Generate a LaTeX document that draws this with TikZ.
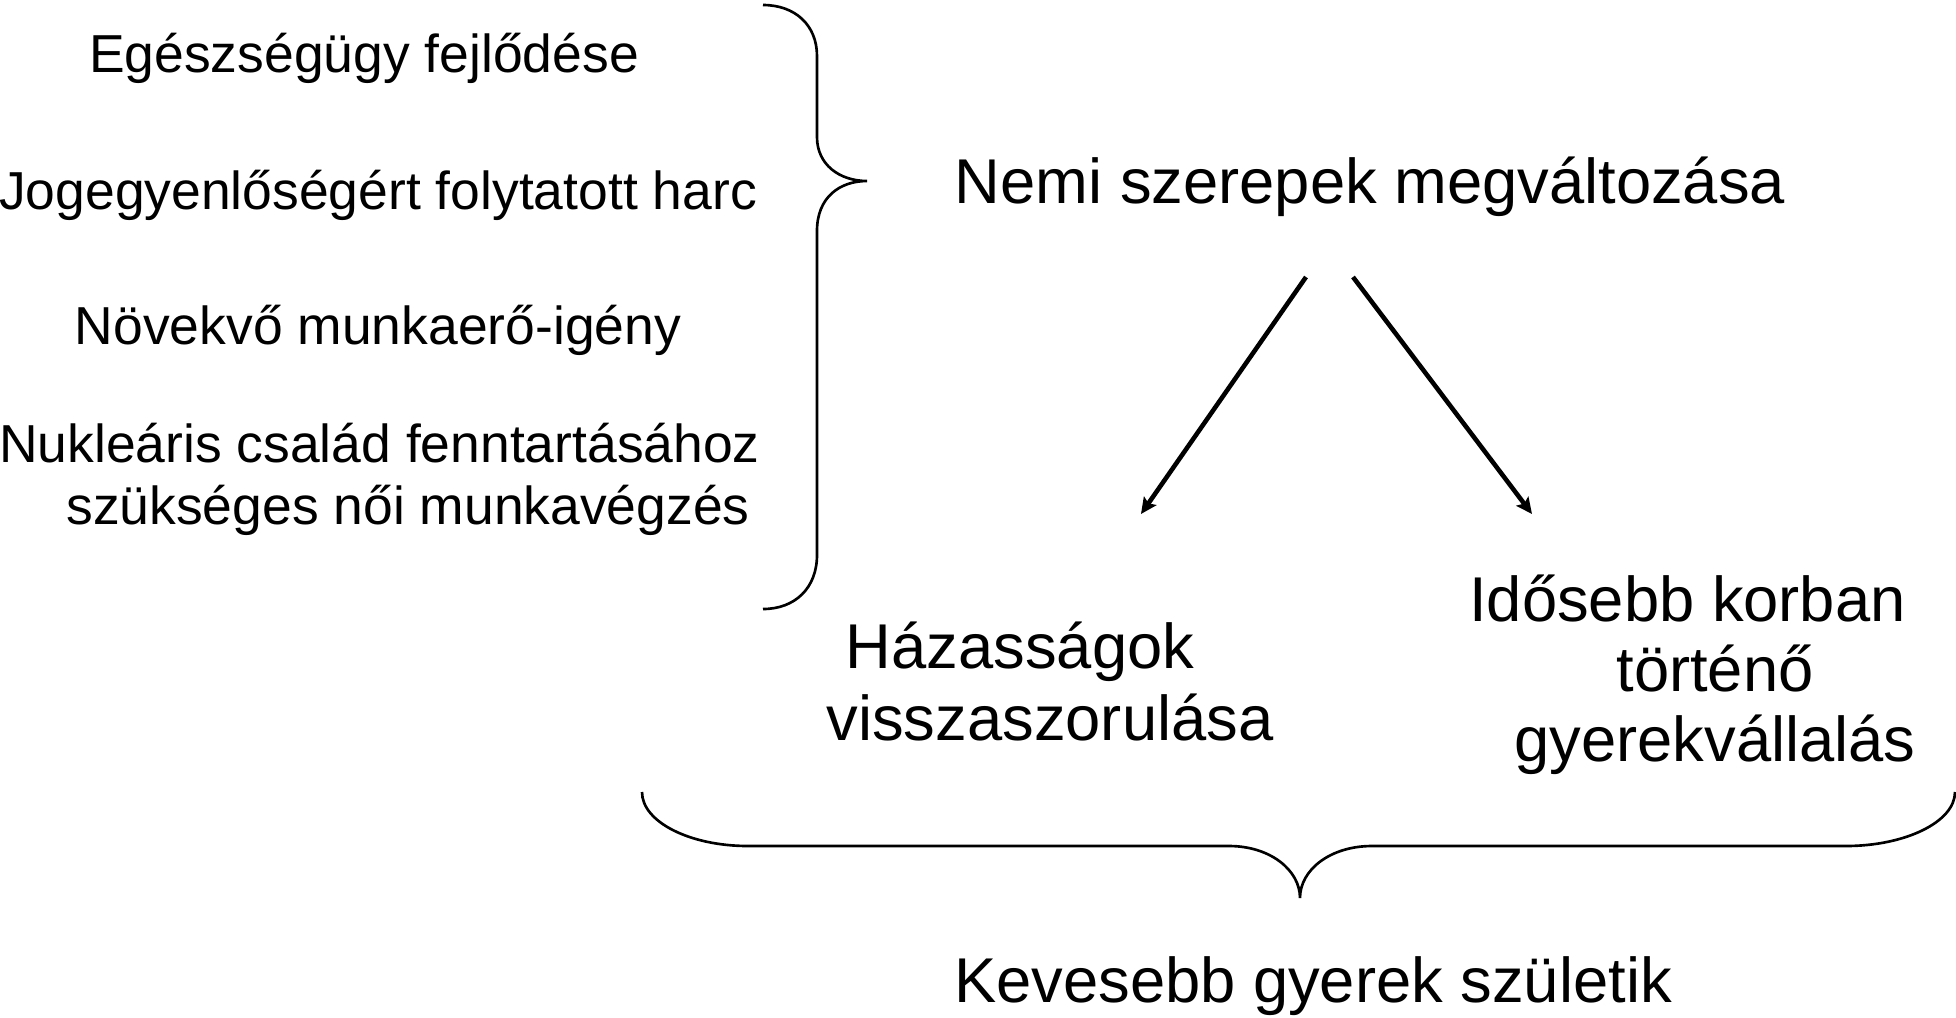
\documentclass[tikz,border=0pt]{standalone}
\usepackage{fontspec}
\setmainfont{Liberation Sans}
\usetikzlibrary{arrows.meta}

\begin{document}
\begin{tikzpicture}[
  x=0.01cm, y=-0.01cm,
  cause/.style={inner sep=0pt, font=\fontsize{15.2}{17.6}\selectfont, align=center},
  effect/.style={inner sep=0pt, font=\fontsize{18}{19.8}\selectfont, align=center},
  brace/.style={line width=0.75pt, black},
  arr/.style={line width=1.3pt, -{Stealth[length=1.6mm, width=1.5mm, inset=0.3mm]}},
]
\useasboundingbox (0,0) rectangle (1956,1017);
% left column
\node[cause, anchor=base] (health) at (364,72) {Egészségügy fejlődése};
\node[cause, anchor=base] (rights) at (378,209) {Jogegyenlőségért folytatott harc};
\node[cause, anchor=base] (labour) at (378,344) {Növekvő munkaerő-igény};
\node[cause, anchor=base] (family) at (408,524) {Nukleáris család fenntartásához\hspace*{0.57cm}\\szükséges női munkavégzés};
% brace gathering the causes
\draw[brace] (763,5) .. controls (795,5) and (817,25) .. (817,56) -- (817,137)
  .. controls (817,165) and (840,181) .. (867,181)
  .. controls (840,181) and (817,197) .. (817,231) -- (817,555)
  .. controls (817,588) and (795,609) .. (763,609);
% middle and consequences
\node[effect, anchor=base] (roles) at (1370,203) {Nemi szerepek megváltozása};
\node[effect, anchor=base, font=\fontsize{18}{20.3}\selectfont] (marriage) at (1050,740) {Házasságok\hspace*{0.6cm}\\visszaszorulása};
\node[effect, anchor=base] (later) at (1715,761) {Idősebb korban\hspace*{0.55cm}\\történő\\gyerekvállalás};
\coordinate (roles-l) at (1306,277);
\coordinate (roles-r) at (1353,277);
\coordinate (marriage-t) at (1141,514);
\coordinate (later-t) at (1532,514);
\draw[arr] (roles-l) -- (marriage-t);
\draw[arr] (roles-r) -- (later-t);
% bottom brace
\draw[brace] (642,792) .. controls (642,822) and (690,846) .. (748,846) -- (1229,846)
  .. controls (1270,846) and (1300,870) .. (1300,898)
  .. controls (1300,870) and (1330,846) .. (1372,846) -- (1846,846)
  .. controls (1905,846) and (1955,822) .. (1955,792);
\node[effect, anchor=base] (fewer) at (1313,1002) {Kevesebb gyerek születik};
\end{tikzpicture}
\end{document}
